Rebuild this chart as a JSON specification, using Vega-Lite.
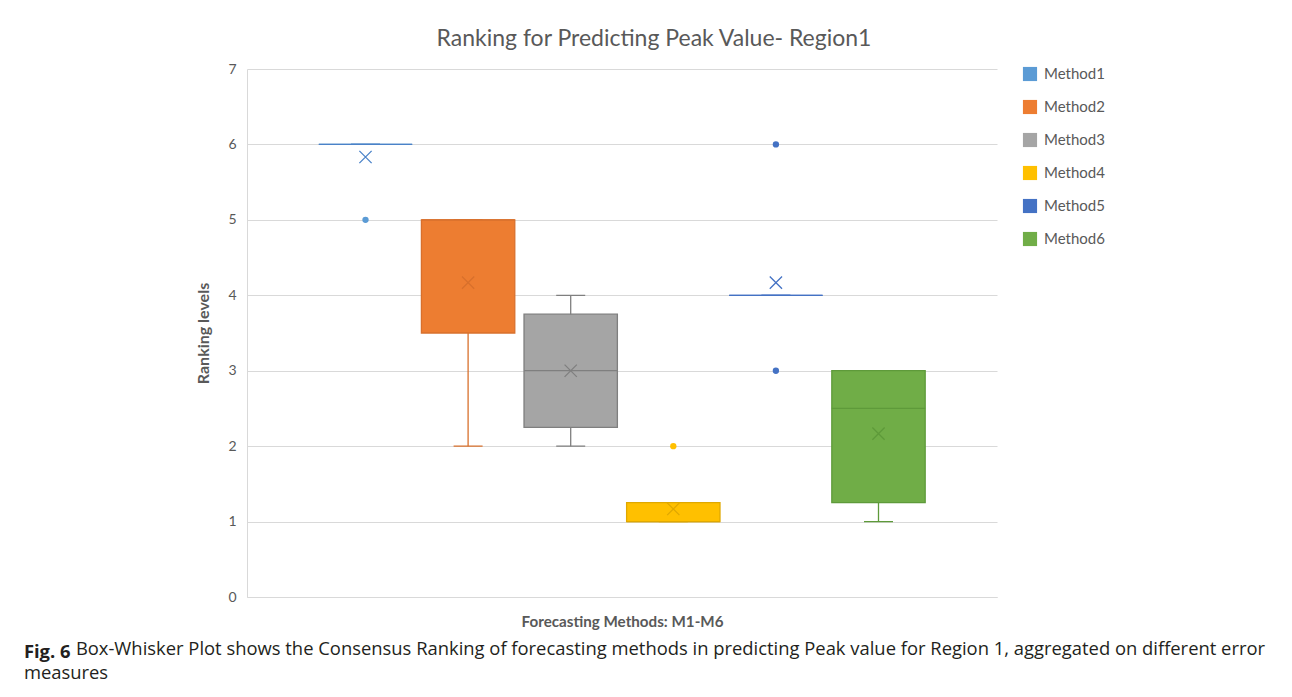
{
  "$schema": "https://vega.github.io/schema/vega-lite/v6.json",
  "padding": {"left": 23, "top": 28, "right": 0, "bottom": 4},
  "background": "white",
  "title": {
    "text": "measures",
    "orient": "bottom",
    "anchor": "start",
    "frame": "bounds",
    "offset": 0,
    "dy": 2,
    "font": "Open Sans",
    "fontSize": 18.4,
    "fontWeight": "normal",
    "color": "#231f20"
  },
  "datasets": {
    "stats": [
      {"method": "Method1", "lower": 6, "q1": 6, "median": 6, "q3": 6, "upper": 6, "mean": 5.833},
      {"method": "Method2", "lower": 2, "q1": 3.5, "median": 5, "q3": 5, "upper": 5, "mean": 4.167},
      {"method": "Method3", "lower": 2, "q1": 2.25, "median": 3, "q3": 3.75, "upper": 4, "mean": 3},
      {"method": "Method4", "lower": 1, "q1": 1, "median": 1, "q3": 1.25, "upper": 1.25, "mean": 1.167},
      {"method": "Method5", "lower": 4, "q1": 4, "median": 4, "q3": 4, "upper": 4, "mean": 4.167},
      {"method": "Method6", "lower": 1, "q1": 1.25, "median": 2.5, "q3": 3, "upper": 3, "mean": 2.167}
    ],
    "outliers": [
      {"method": "Method1", "value": 5},
      {"method": "Method4", "value": 2},
      {"method": "Method5", "value": 6},
      {"method": "Method5", "value": 3}
    ]
  },
  "resolve": {"scale": {"color": "independent", "stroke": "independent"}, "legend": {"color": "independent"}},
  "vconcat": [
    {
      "title": {
        "text": "Box-Whisker Plot shows the Consensus Ranking of forecasting methods in predicting Peak value for Region 1, aggregated on different error",
        "orient": "bottom",
        "anchor": "start",
        "frame": "bounds",
        "dx": 52,
        "dy": -22,
        "offset": 0,
        "font": "Open Sans",
        "fontSize": 18.4,
        "fontWeight": "normal",
        "color": "#231f20"
      },
      "resolve": {"scale": {"color": "independent", "stroke": "independent"}, "legend": {"color": "independent"}},
      "vconcat": [
        {
          "title": {
            "text": "Fig. 6",
            "orient": "bottom",
            "anchor": "start",
            "frame": "bounds",
            "dx": -172,
            "offset": 14,
            "font": "Open Sans",
            "fontSize": 18.4,
            "fontWeight": "bold",
            "color": "#231f20"
          },
          "resolve": {"scale": {"color": "independent", "stroke": "independent"}, "legend": {"color": "independent"}},
          "vconcat": [
            {
              "width": 750,
              "height": 528,
              "title": {
                "text": "Ranking for Predicting Peak Value- Region1",
                "anchor": "middle",
                "dx": 32,
                "offset": 11,
                "fontSize": 23,
                "fontWeight": "normal",
                "color": "#595959",
                "font": "Lato"
              },
              "data": {"name": "stats"},
              "encoding": {
                "x": {
                  "field": "method",
                  "type": "nominal",
                  "scale": {"paddingInner": 0.09, "paddingOuter": 0.7},
                  "axis": {
                    "title": "Forecasting Methods: M1-M6",
                    "labels": false,
                    "ticks": false,
                    "grid": false,
                    "domainColor": "#d9d9d9",
                    "titleFontSize": 15.2,
                    "titleFontWeight": "bold",
                    "titleColor": "#595959",
                    "titlePadding": 17
                  }
                }
              },
              "layer": [
                {
                  "mark": {"type": "rule", "strokeWidth": 1.3},
                  "encoding": {
                    "y": {
                      "field": "lower",
                      "type": "quantitative",
                      "scale": {"domain": [0, 7], "nice": false},
                      "axis": {
                        "title": "Ranking levels",
                        "values": [0, 1, 2, 3, 4, 5, 6, 7],
                        "format": "d",
                        "ticks": false,
                        "labelPadding": 11,
                        "labelFontSize": 14,
                        "labelColor": "#595959",
                        "domainColor": "#d9d9d9",
                        "gridColor": "#d9d9d9",
                        "titleFontSize": 16,
                        "titleFontWeight": "bold",
                        "titleColor": "#595959",
                        "titlePadding": 16
                      }
                    },
                    "y2": {"field": "upper"},
                    "stroke": {"field": "method", "type": "nominal", "legend": null, "scale": {"range": ["#4a82c8", "#d8702c", "#7f7f7f", "#e0a800", "#4472c4", "#5e9a3a"]}}
                  }
                },
                {
                  "mark": {"type": "bar", "width": 29, "filled": false, "strokeWidth": 1.3},
                  "encoding": {
                    "y": {"field": "lower", "type": "quantitative"},
                    "y2": {"field": "lower"},
                    "stroke": {"field": "method", "type": "nominal", "legend": null}
                  }
                },
                {
                  "mark": {"type": "bar", "width": 29, "filled": false, "strokeWidth": 1.3},
                  "encoding": {
                    "y": {"field": "upper", "type": "quantitative"},
                    "y2": {"field": "upper"},
                    "stroke": {"field": "method", "type": "nominal", "legend": null}
                  }
                },
                {
                  "mark": {"type": "bar", "strokeWidth": 1.3},
                  "encoding": {
                    "y": {"field": "q1", "type": "quantitative"},
                    "y2": {"field": "q3"},
                    "color": {
                      "field": "method",
                      "type": "nominal",
                      "scale": {"domain": ["Method1", "Method2", "Method3", "Method4", "Method5", "Method6"], "range": ["#5b9bd5", "#ed7d31", "#a5a5a5", "#ffc000", "#4472c4", "#70ad47"]},
                      "legend": {
                        "title": null,
                        "orient": "none",
                        "legendX": 775,
                        "legendY": -3,
                        "symbolType": "square",
                        "symbolSize": 200,
                        "labelFontSize": 15,
                        "labelColor": "#595959",
                        "labelFont": "Lato",
                        "labelOffset": 6,
                        "rowPadding": 17,
                        "padding": 0
                      }
                    },
                    "stroke": {"field": "method", "type": "nominal", "legend": null}
                  }
                },
                {
                  "mark": {"type": "bar", "filled": false, "strokeWidth": 1.3},
                  "encoding": {
                    "y": {"field": "median", "type": "quantitative"},
                    "y2": {"field": "median"},
                    "stroke": {"field": "method", "type": "nominal", "legend": null}
                  }
                },
                {
                  "mark": {"type": "point", "shape": "M-1,-1L1,1M-1,1L1,-1", "filled": false, "size": 150, "strokeWidth": 1.3, "opacity": 1},
                  "encoding": {
                    "y": {"field": "mean", "type": "quantitative"},
                    "stroke": {"field": "method", "type": "nominal", "legend": null}
                  }
                },
                {
                  "data": {"name": "outliers"},
                  "mark": {"type": "circle", "size": 40, "opacity": 1},
                  "encoding": {
                    "y": {"field": "value", "type": "quantitative"},
                    "color": {"field": "method", "type": "nominal"}
                  }
                }
              ]
            }
          ]
        }
      ]
    }
  ],
  "config": {
    "font": "Lato",
    "view": {"stroke": null},
    "concat": {"spacing": 0}
  }
}
